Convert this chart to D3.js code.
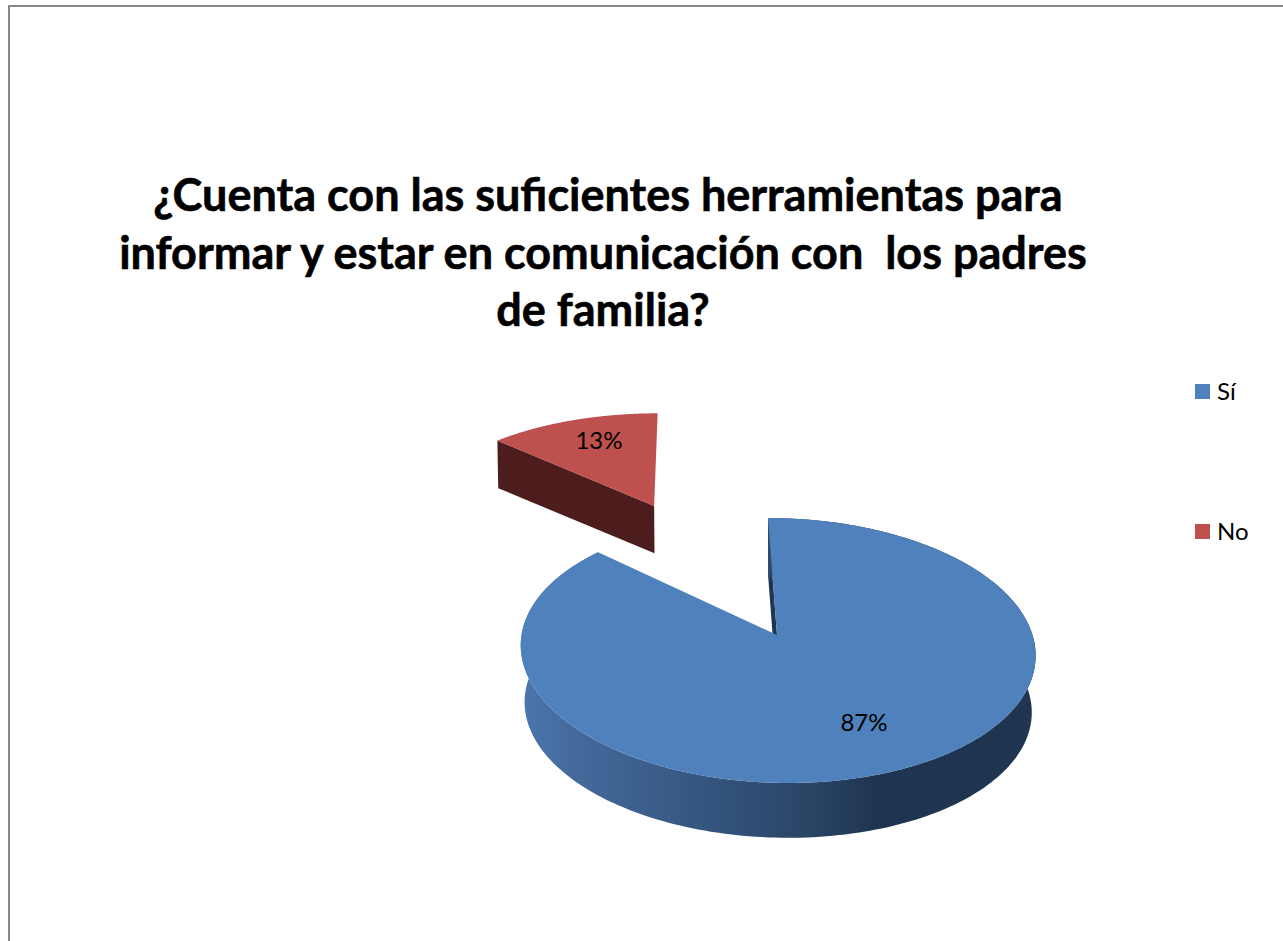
<!DOCTYPE html>
<html><head><meta charset="utf-8">
<script src="https://cdn.jsdelivr.net/npm/d3@7"></script>
<style>html,body{margin:0;padding:0;background:#fff;overflow:hidden}svg{display:block}text{font-family:Lato,sans-serif;white-space:pre;fill:#000}</style>
</head><body><svg id="c" width="1283" height="941"></svg>
<script>
const categories = ["Sí", "No"];
const seriesValues = [87, 13];
const valueLabels = ["87%", "13%"];
const sliceColors = ["#4f81bd", "#be504d"];
const titleLines = ["¿Cuenta con las suficientes herramientas para", "informar y estar en comunicación con  los padres", "de familia?"];

const svg = d3.select("#c");
const defs = svg.append("defs");
const grad = defs.append("linearGradient").attr("id","wallBlue").attr("gradientUnits","userSpaceOnUse")
  .attr("x1",525).attr("x2",1035).attr("y1",0).attr("y2",0);
[[0,"#4a76ad"],[0.1,"#44699b"],[0.37,"#33547d"],[0.56,"#2a4465"],[0.7,"#1e3450"],[1,"#1f3550"]]
  .forEach(([o,c])=>grad.append("stop").attr("offset",o).attr("stop-color",c));

// frame
svg.append("rect").attr("x",9).attr("y",6).attr("width",1400).attr("height",1100)
  .attr("fill","#fff").attr("stroke","#868686").attr("stroke-width",2);

// title
svg.append("g").selectAll("text").data(titleLines).join("text")
  .attr("x",(d,i)=>[608,603,603][i]).attr("y",(d,i)=>[211,269,326][i])
  .attr("text-anchor","middle").attr("font-size",45).attr("font-weight",700)
  .attr("stroke","#000").attr("stroke-width",0.6).text(d=>d);

// perspective ground plane: (u,v) in pie radii, v pointing away from the viewer
const ox = 777, oy = 635, rx = 255.5, ry = 130.7, persp = 0.117, shear = -10;
const sx = d3.scaleLinear().domain([0,1]).range([0,rx]);
const sy = d3.scaleLinear().domain([0,1]).range([0,ry]);
const scaleAt = v => 1/(1+persp*v);
const wallDepth = [57, 47];
const wallInset = [0.985, 0.997];
const project = (u,v,i,wall) => {
  const s = scaleAt(v);
  const x = (sx(u)+shear*v)*s, y = -sy(v)*s;
  return wall ? [ox + x*wallInset[i], oy + y*wallInset[i] + wallDepth[i]] : [ox + x, oy + y];
};
const line = d3.line();
const arcs = d3.pie().sort(null).value(d=>d)(seriesValues);
const explodeU = [0, -0.5], explodeV = [0, 1.116], stretchU = [1, 1.035];
const steps = a => d3.range(0,1.0001,1/240).map(t=>a.startAngle+(a.endAngle-a.startAngle)*t);

const pts = (a,i,wall) => ({
  rim:steps(a).map(t=>project(explodeU[i]+stretchU[i]*Math.sin(t),explodeV[i]+Math.cos(t),i,wall)),
  apex:project(explodeU[i],explodeV[i],i,wall)
});

[1,0].forEach(i=>{
  const a=arcs[i];
  const g=svg.append("g");
  const top=pts(a,i,false), bot=pts(a,i,true);
  if(i===0){
    // radial inner wall at angle 0, then the curved outer wall
    g.append("path").attr("fill","#1f3550")
      .attr("d",line([top.rim[0],top.apex,bot.apex,bot.rim[0]])+"Z");
    g.append("path").attr("fill","url(#wallBlue)")
      .attr("d",line(top.rim.concat(bot.rim.slice().reverse()))+"Z");
  } else {
    // radial wall facing the viewer
    g.append("path").attr("fill","#4c1d1c")
      .attr("d",line([top.rim[0],top.apex,bot.apex,bot.rim[0]])+"Z");
  }
  g.append("path").attr("fill",sliceColors[i])
    .attr("d",line([top.apex].concat(top.rim))+"Z");
});

// value labels
svg.append("g").selectAll("text").data(valueLabels).join("text")
  .attr("x",(d,i)=>[864,599][i]).attr("y",(d,i)=>[731,449][i])
  .attr("text-anchor","middle").attr("font-size",24).text(d=>d);

// legend
const lg = svg.append("g").selectAll("g").data(categories).join("g");
const ly = d3.scalePoint().domain(categories).range([384,524]);
lg.append("rect").attr("x",1195).attr("y",d=>ly(d)).attr("width",15).attr("height",15).attr("fill",(d,i)=>sliceColors[i]);
lg.append("text").attr("x",1217).attr("y",d=>ly(d)+16).attr("font-size",24).text(d=>d);
</script></body></html>
